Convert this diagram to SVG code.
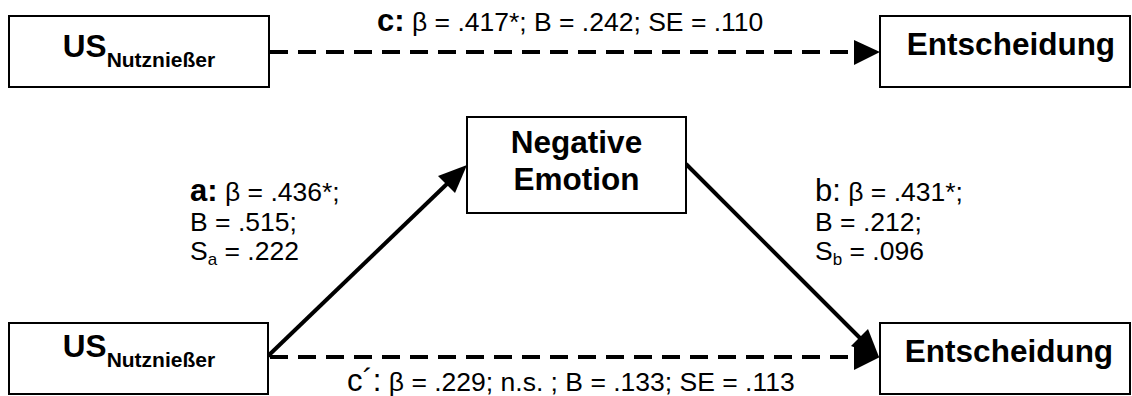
<svg xmlns="http://www.w3.org/2000/svg" width="1132" height="396" viewBox="0 0 1132 396">
  <style>
    .box { fill: #ffffff; stroke: #000000; stroke-width: 2; }
    .node { font-family: "Liberation Sans", Arial, sans-serif; font-weight: bold; font-size: 31.5px; fill: #000000; text-anchor: middle; }
    .sub { font-size: 21px; }
    .lbl { font-family: "Liberation Sans", Arial, sans-serif; font-size: 26.5px; fill: #000000; }
    .key { font-size: 31px; }
    .bold { font-weight: bold; }
    .idx { font-size: 17px; }
    .solid { fill: none; stroke: #000000; stroke-width: 4; }
    .dash { fill: none; stroke: #000000; stroke-width: 4; stroke-dasharray: 18 10; }
    .head { fill: #000000; stroke: none; }
  </style>
  <rect width="1132" height="396" fill="#ffffff"/>

  <!-- connectors -->
  <g id="connectors">
    <!-- c: total effect -->
    <line class="dash" x1="270" y1="52" x2="856" y2="52"/>
    <polygon class="head" points="854,40 880,52 854,65"/>
    <!-- a: predictor to mediator -->
    <line class="solid" x1="268" y1="356" x2="450" y2="181"/>
    <polygon class="head" points="467,165 455,193 438,176"/>
    <!-- b: mediator to outcome -->
    <line class="solid" x1="686" y1="164" x2="862" y2="340"/>
    <polygon class="head" points="879,357 851,346 868,329"/>
    <!-- c': direct effect -->
    <line class="dash" x1="270" y1="357" x2="856" y2="357"/>
    <polygon class="head" points="854,345 880,357 854,370"/>
  </g>

  <!-- top row -->
  <g id="us-top">
    <rect class="box" x="9" y="16" width="260" height="71"/>
    <text class="node" x="139" y="57">US<tspan class="sub" dy="10">Nutznießer</tspan></text>
  </g>
  <g id="entscheidung-top">
    <rect class="box" x="880" y="16" width="250" height="71"/>
    <text class="node" x="1011" y="55">Entscheidung</text>
  </g>

  <!-- mediator -->
  <g id="negative-emotion">
    <rect class="box" x="467" y="117" width="219" height="96"/>
    <text class="node" x="576.5" y="153">Negative</text>
    <text class="node" x="576.5" y="190">Emotion</text>
  </g>

  <!-- bottom row -->
  <g id="us-bottom">
    <rect class="box" x="9" y="323" width="259" height="71"/>
    <text class="node" x="139" y="357">US<tspan class="sub" dy="10">Nutznießer</tspan></text>
  </g>
  <g id="entscheidung-bottom">
    <rect class="box" x="880" y="323" width="250" height="71"/>
    <text class="node" x="1009" y="362">Entscheidung</text>
  </g>

  <!-- path coefficients -->
  <g id="label-c">
    <text class="lbl" x="377" y="31"><tspan class="key bold">c:</tspan> β = .417*; B = .242; SE = .110</text>
  </g>
  <g id="label-a">
    <text class="lbl" x="190" y="201"><tspan class="key bold">a:</tspan> β = .436*;</text>
    <text class="lbl" x="190" y="231">B = .515;</text>
    <text class="lbl" x="190" y="260">S<tspan class="idx" dy="5">a</tspan><tspan dy="-5"> = .222</tspan></text>
  </g>
  <g id="label-b">
    <text class="lbl" x="815" y="201"><tspan class="key">b:</tspan> β = .431*;</text>
    <text class="lbl" x="815" y="231">B = .212;</text>
    <text class="lbl" x="815" y="260">S<tspan class="idx" dy="5">b</tspan><tspan dy="-5"> = .096</tspan></text>
  </g>
  <g id="label-c-prime">
    <text class="lbl" x="347" y="391"><tspan class="key">c´:</tspan> β = .229; n.s. ; B = .133; SE = .113</text>
  </g>
</svg>
